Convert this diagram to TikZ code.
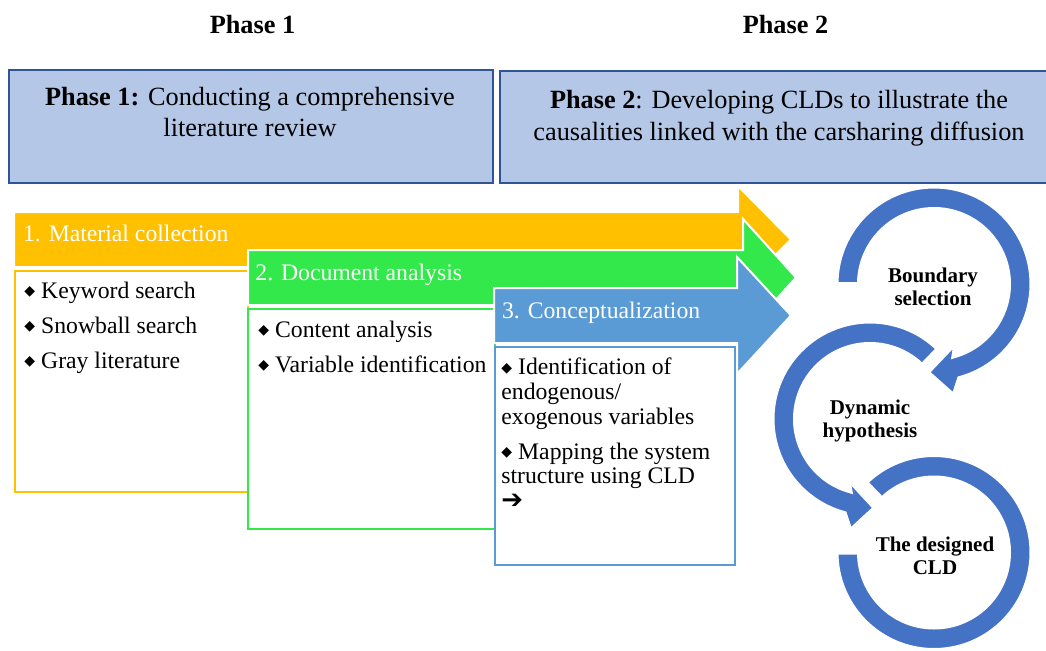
\documentclass[tikz,border=0pt]{standalone}
\usepackage{fontspec}
\setmainfont{Liberation Serif}
\newfontfamily\symfont{DejaVu Sans}
\usetikzlibrary{positioning}

\definecolor{phasefill}{HTML}{B4C7E7}
\definecolor{phaseline}{HTML}{2F5597}
\definecolor{stepyellow}{HTML}{FFC000}
\definecolor{stepgreen}{HTML}{33E84B}
\definecolor{stepblue}{HTML}{5B9BD5}
\definecolor{ringblue}{HTML}{4472C4}

\newcommand{\bul}{\raisebox{1.4pt}{\symfont\fontsize{7}{7}\selectfont ◆}\hspace{3pt}}

\begin{document}
\begin{tikzpicture}[x=0.5pt, y=-0.5pt,
	phasebox/.style={draw=phaseline, fill=phasefill, line width=1pt, inner sep=0pt, anchor=north west},
	phasetext/.style={align=center, inner sep=0pt, anchor=north, font=\fontsize{13.15}{15.9}\selectfont},
	listbox/.style={fill=white, line width=1pt, inner sep=0pt, anchor=north west},
	steptext/.style={text=white, inner sep=0pt, anchor=base west, font=\fontsize{11.85}{14}\selectfont},
	items/.style={align=left, inner sep=0pt, font=\fontsize{11.85}{17.4}\selectfont},
	ring/.style={fill=ringblue, draw=white, line width=2pt},
	ringlabel/.style={align=center, inner sep=0pt, font=\bfseries\fontsize{10.5}{11.2}\selectfont}]
				\useasboundingbox (0,0) rectangle (1046,650);
				
				\node[font=\bfseries\fontsize{13.15}{16}\selectfont, anchor=base] (lab1) at (252.5,33) {Phase 1};
				\node[font=\bfseries\fontsize{13.15}{16}\selectfont, anchor=base] (lab2) at (785.5,33) {Phase 2};
				
				\node[phasebox, minimum width=242pt, minimum height=56.5pt] (ph1) at (8,69) {};
				\node[phasebox, minimum width=276.5pt, minimum height=56pt] (ph2) at (499,70) {};
				\node[phasetext] (ph1txt) at (250,86.5) {\textbf{Phase 1:} Conducting a comprehensive\\literature review};
				\node[phasetext] (ph2txt) at (779,90) {\textbf{Phase 2}: Developing CLDs to illustrate the\\causalities linked with the carsharing diffusion};
				
				\filldraw[fill=stepyellow, draw=white, line width=1pt] (14,212) -- (738,212) -- (738,186) -- (791,239.5) -- (738,293) -- (738,267) -- (14,267) -- cycle;
				\node[steptext] (st1) at (22.7,241.7) {1. Material collection};
				\node[listbox, draw=stepyellow, minimum width=116.5pt, minimum height=110.5pt] (box1) at (14,270) {};
				\node[items, below right=5.9pt and 5pt of box1.north west] (it1) {\bul Keyword search\\\bul Snowball search\\\bul Gray literature};
				
				\filldraw[fill=stepgreen, draw=white, line width=1pt] (248,250) -- (743,250) -- (743,219) -- (796,277.5) -- (743,336) -- (743,305) -- (248,305) -- cycle;
				\node[steptext] (st2) at (255,280) {2. Document analysis};
				\node[listbox, draw=stepgreen, minimum width=123.5pt, minimum height=110pt] (box2) at (247,308) {};
				\node[items, below right=6.25pt and 5.5pt of box2.north west] (it2) {\bul Content analysis\\\bul Variable identification};
				
				\filldraw[fill=stepblue, draw=white, line width=1pt] (494,288) -- (737,288) -- (737,257) -- (791,315.5) -- (737,374) -- (737,343) -- (494,343) -- cycle;
				\node[steptext] (st3) at (501.7,318) {3. Conceptualization};
				\node[listbox, draw=stepblue, minimum width=120pt, minimum height=109pt] (box3) at (494,346) {};
				\node[items, font=\fontsize{11.85}{12.3}\selectfont, below right=5.9pt and 3.5pt of box3.north west] (it3) {\bul Identification of\\endogenous/\\exogenous variables\\[5.25pt]\bul Mapping the system\\structure using CLD\\{\symfont\bfseries\fontsize{13}{13}\selectfont ➔}};
				
				\begin{scope}[shift={(934,552.5)}, yscale=-1]
					\path[ring] (134:97.5) arc[start angle=134, end angle=-180, radius=97.5] -- (180:75) arc[start angle=-180, end angle=134, radius=75] -- cycle;
				\end{scope}
				\begin{scope}[shift={(870,419)}, yscale=-1]
					\path[ring] (46:97.5) arc[start angle=46, end angle=255, radius=97.5] -- (260:113) -- (273:89) -- (250:64) -- (255:75) arc[start angle=255, end angle=46, radius=75] -- cycle;
				\end{scope}
				\begin{scope}[shift={(934,284)}, yscale=-1]
					\path[ring] (180:97.5) arc[start angle=180, end angle=-75, radius=97.5] -- (-80:113) -- (-94:88.5) -- (-70:63) -- (-75:75) arc[start angle=-75, end angle=180, radius=75] -- cycle;
				\end{scope}
				
				\node[ringlabel] (bnd) at (933,287) {Boundary\\selection};
				\node[ringlabel] (dyn) at (870,421) {Dynamic\\hypothesis};
				\node[ringlabel] (cld) at (935,556) {The designed\\CLD};
			\end{tikzpicture}
\end{document}
